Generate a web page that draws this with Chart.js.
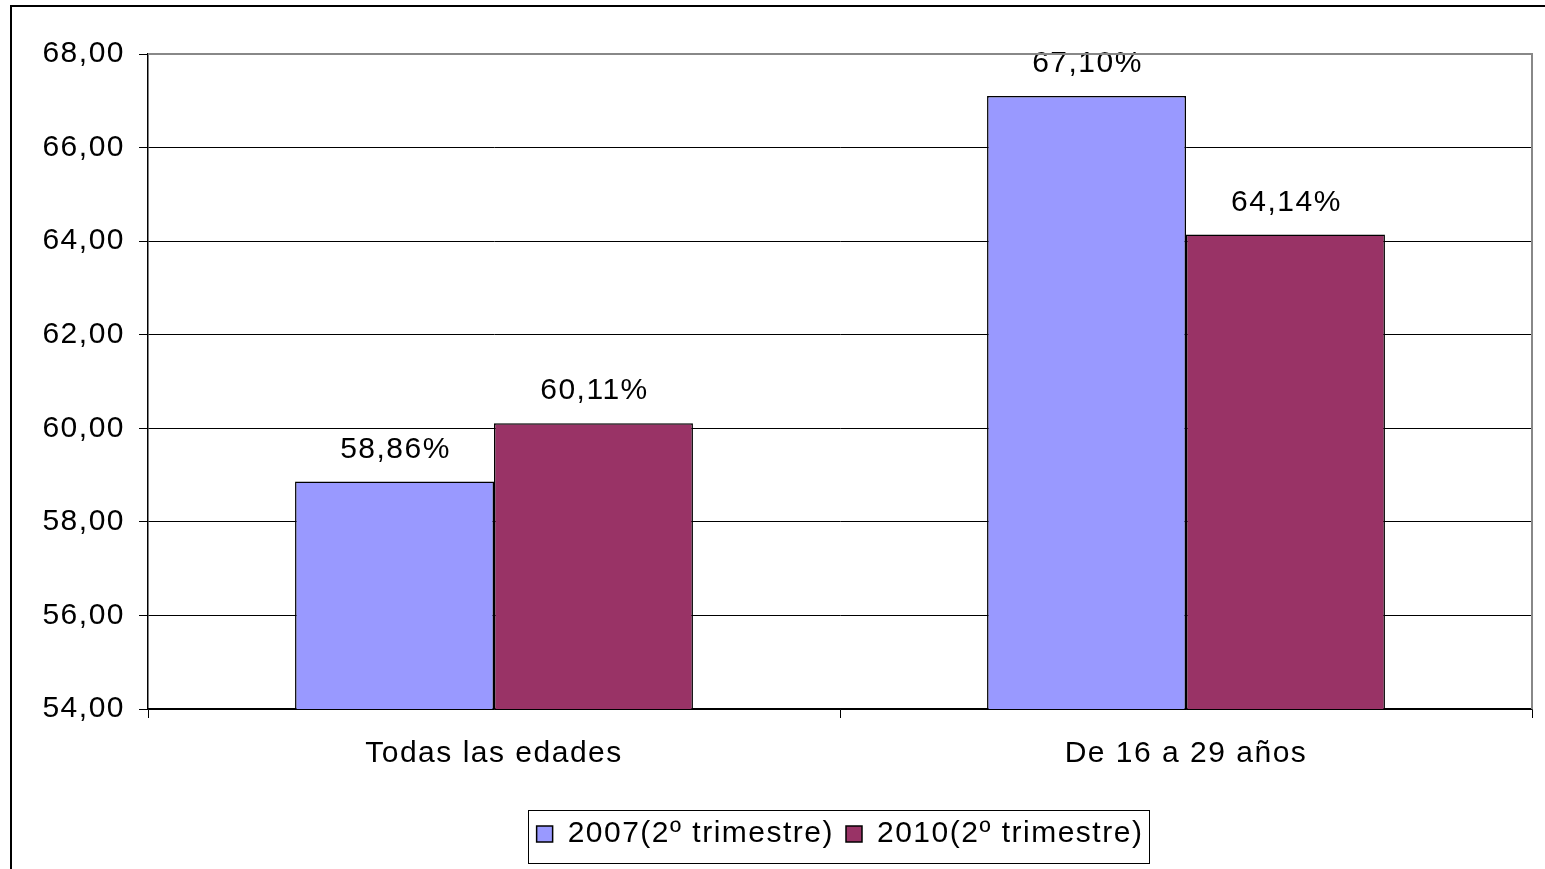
<!DOCTYPE html>
<html>
<head>
<meta charset="utf-8">
<script src="https://cdn.jsdelivr.net/npm/chart.js@4/dist/chart.umd.min.js"></script>
<style>
  html, body { margin: 0; padding: 0; background: #fff; }
  #wrap { position: relative; width: 1545px; height: 869px; overflow: hidden; }
  #frame { position: absolute; left: 10px; top: 5px; width: 1600px; height: 900px;
           border-left: 2px solid #000; border-top: 2px solid #000; }
  canvas { position: absolute; left: 0; top: 0; }
</style>
</head>
<body>
<div id="wrap">
  <div id="frame"></div>
  <canvas id="chart" width="1545" height="869"></canvas>
</div>
<script>
// datos
const categorias = ["Todas las edades", "De 16 a 29 años"];
const serie2007 = [58.86, 67.10];
const serie2010 = [60.11, 64.14];
const nombres = ["2007(2º trimestre)", "2010(2º trimestre)"];

const fuente = "'Liberation Sans', Arial, sans-serif";
const espaciado = "1.5px";

function coma(v, dec) {
  return v.toFixed(dec).replace(".", ",");
}

// espaciado entre letras (el original usa letra algo mas ancha)
const espacio = {
  id: "espacio",
  beforeUpdate(chart) { chart.ctx.letterSpacing = espaciado; },
  beforeDraw(chart) { chart.ctx.letterSpacing = espaciado; }
};

// etiquetas encima de las barras
const etiquetas = {
  id: "etiquetas",
  afterDatasetsDraw(chart) {
    const ctx = chart.ctx;
    ctx.save();
    ctx.font = "30px " + fuente;
    ctx.fillStyle = "#000";
    ctx.textAlign = "center";
    ctx.textBaseline = "alphabetic";
    chart.data.datasets.forEach((ds, i) => {
      chart.getDatasetMeta(i).data.forEach((bar, j) => {
        ctx.fillText(coma(ds.data[j], 2) + "%", bar.x + 1, bar.y - 24);
      });
    });
    ctx.restore();
  }
};

// borde gris del área de trazado y caja de la leyenda
const bordes = {
  id: "bordes",
  afterDraw(chart) {
    const ctx = chart.ctx;
    const a = chart.chartArea;
    ctx.save();
    ctx.strokeStyle = "#888";
    ctx.lineWidth = 2;
    ctx.beginPath();
    ctx.moveTo(a.left, a.top);
    ctx.lineTo(a.right, a.top);
    ctx.lineTo(a.right, a.bottom);
    ctx.stroke();
    ctx.strokeStyle = "#000";
    ctx.lineWidth = 1;
    ctx.strokeRect(528.5, 810.5, 621, 53);
    ctx.restore();
  }
};

new Chart(document.getElementById("chart"), {
  type: "bar",
  data: {
    labels: categorias,
    datasets: [
      {
        label: nombres[0],
        data: serie2007,
        backgroundColor: "#9999FF",
        borderColor: "#000",
        borderWidth: 1.5
      },
      {
        label: nombres[1],
        data: serie2010,
        backgroundColor: "#993366",
        borderColor: "#000",
        borderWidth: 1.5
      }
    ]
  },
  options: {
    responsive: false,
    animation: false,
    events: [],
    layout: { padding: { left: 0, right: 13, top: 54, bottom: 10 } },
    datasets: {
      bar: { barPercentage: 1, categoryPercentage: 0.575 }
    },
    scales: {
      y: {
        min: 54,
        max: 68,
        afterFit(scale) { scale.width = 148; },
        ticks: {
          stepSize: 2,
          color: "#000",
          font: { family: fuente, size: 30 },
          padding: 14,
          callback: (v) => coma(v, 2)
        },
        grid: {
          color: "#000",
          lineWidth: 1,
          tickLength: 9
        },
        border: { color: "#000", width: 1.5 }
      },
      x: {
        afterFit(scale) { scale.height = 98; },
        ticks: {
          color: "#000",
          font: { family: fuente, size: 30 },
          padding: 18
        },
        grid: {
          drawOnChartArea: false,
          color: "#000",
          tickLength: 9,
          offset: true
        },
        border: { color: "#000", width: 1.5 }
      }
    },
    plugins: {
      legend: {
        position: "bottom",
        fullSize: false,
        labels: {
          color: "#000",
          font: { family: fuente, size: 30 },
          boxWidth: 16,
          boxHeight: 16,
          padding: 12
        }
      },
      tooltip: { enabled: false }
    }
  },
  plugins: [espacio, etiquetas, bordes]
});
</script>
</body>
</html>
